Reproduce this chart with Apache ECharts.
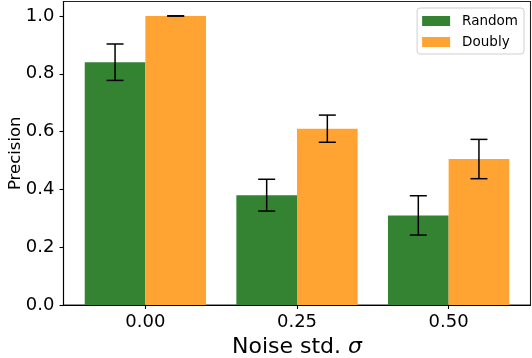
<!DOCTYPE html>
<html>
<head>
<meta charset="utf-8">
<script src="https://cdn.jsdelivr.net/npm/echarts@6/dist/echarts.min.js"></script>
<style>html,body{margin:0;padding:0;background:#fff}#c{width:532px;height:358px}</style>
</head>
<body>
<div id="c"></div>
<script>
const categories = ['0.00', '0.25', '0.50'];
const seriesNames = ['Random', 'Doubly'];
const randomMean = [0.84, 0.38, 0.31];
const randomErr = [0.063, 0.055, 0.068];
const doublyMean = [1.0, 0.61, 0.505];
const doublyErr = [0.0, 0.047, 0.068];
const yTicks = [0, 0.2, 0.4, 0.6, 0.8, 1.0];

const colors = ['#338333', '#FFA333'];
const barW = 0.4;
const FONT = 'DejaVu Sans';

function makeData(means, errs) {
  return means.map((m, i) => [i, m, errs[i]]);
}

function renderBar(offset) {
  return function (params, api) {
    const x = api.value(0), y = api.value(1), e = api.value(2);
    const x0 = x + offset, x1 = x + offset + barW;
    const p0 = api.coord([x0, y]);
    const p1 = api.coord([x1, 0]);
    const xc = api.coord([x0 + barW / 2, 0])[0];
    const yt = api.coord([x, y + e])[1];
    const yb = api.coord([x, y - e])[1];
    const cap = 8.5;
    const ls = { stroke: '#000', lineWidth: 1.5 };
    return {
      type: 'group',
      children: [
        { type: 'rect', shape: { x: p0[0], y: p0[1], width: p1[0] - p0[0], height: p1[1] - p0[1] },
          style: { fill: api.visual('color') } },
        { type: 'line', shape: { x1: xc, y1: yt, x2: xc, y2: yb }, style: ls, z2: 10 },
        { type: 'line', shape: { x1: xc - cap, y1: yt, x2: xc + cap, y2: yt }, style: ls, z2: 10 },
        { type: 'line', shape: { x1: xc - cap, y1: yb, x2: xc + cap, y2: yb }, style: ls, z2: 10 }
      ]
    };
  };
}

const chart = echarts.init(document.getElementById('c'), null, { renderer: 'canvas' });
chart.setOption({
  animation: false,
  textStyle: { fontFamily: FONT },
  grid: { left: 63.5, right: 1.5, top: 1.5, bottom: 53, containLabel: false, outerBoundsMode: 'none', show: true, borderColor: '#222', borderWidth: 1.1, backgroundColor: 'transparent' },
  legend: {
    right: 8, top: 8,
    orient: 'vertical',
    data: seriesNames.map(n => ({ name: n, icon: 'rect' })),
    itemWidth: 28, itemHeight: 10, itemGap: 5,
    padding: [5, 6, 4, 5],
    borderColor: '#d0d0d0', borderWidth: 1, borderRadius: 3,
    backgroundColor: 'rgba(255,255,255,0.8)',
    textStyle: { fontFamily: FONT, fontSize: 13.5, color: '#000', lineHeight: 16, padding: [0, 0, 0, 7] }
  },
  xAxis: {
    type: 'value', min: -0.54, max: 2.54,
    name: '{a|Noise std. }{b|σ}',
    nameLocation: 'middle', nameGap: 31, nameMoveOverlap: false,
    nameTextStyle: { rich: { a: { fontFamily: FONT, fontSize: 22, color: '#000' }, b: { fontFamily: FONT, fontSize: 22, fontStyle: 'italic', color: '#000' } } },
    splitLine: { show: false },
    axisLine: { show: true, onZero: false, lineStyle: { color: '#000', width: 1.1 } },
    axisTick: { show: true, customValues: categories.map((c, i) => i), length: 4, lineStyle: { color: '#000', width: 1.1 } },
    axisLabel: { customValues: categories.map((c, i) => i), formatter: v => categories[Math.round(v)], fontFamily: FONT, fontSize: 18, color: '#000', margin: 8 }
  },
  yAxis: {
    type: 'value', min: 0, max: 1.05,
    name: 'Precision', nameLocation: 'middle', nameGap: 39, nameRotate: 90, nameMoveOverlap: false,
    nameTextStyle: { fontFamily: FONT, fontSize: 16.5, color: '#000' },
    splitLine: { show: false },
    axisLine: { show: true, onZero: false, lineStyle: { color: '#000', width: 1.1 } },
    axisTick: { show: true, customValues: yTicks, length: 4, lineStyle: { color: '#000', width: 1.1 } },
    axisLabel: { customValues: yTicks, formatter: v => v.toFixed(1), fontFamily: FONT, fontSize: 18, color: '#000', margin: 9 }
  },
  series: [
    { name: seriesNames[0], type: 'custom', itemStyle: { color: colors[0] }, renderItem: renderBar(-barW), data: makeData(randomMean, randomErr), encode: { x: 0, y: 1 } },
    { name: seriesNames[1], type: 'custom', itemStyle: { color: colors[1] }, renderItem: renderBar(0), data: makeData(doublyMean, doublyErr), encode: { x: 0, y: 1 } }
  ]
});
</script>
</body>
</html>
